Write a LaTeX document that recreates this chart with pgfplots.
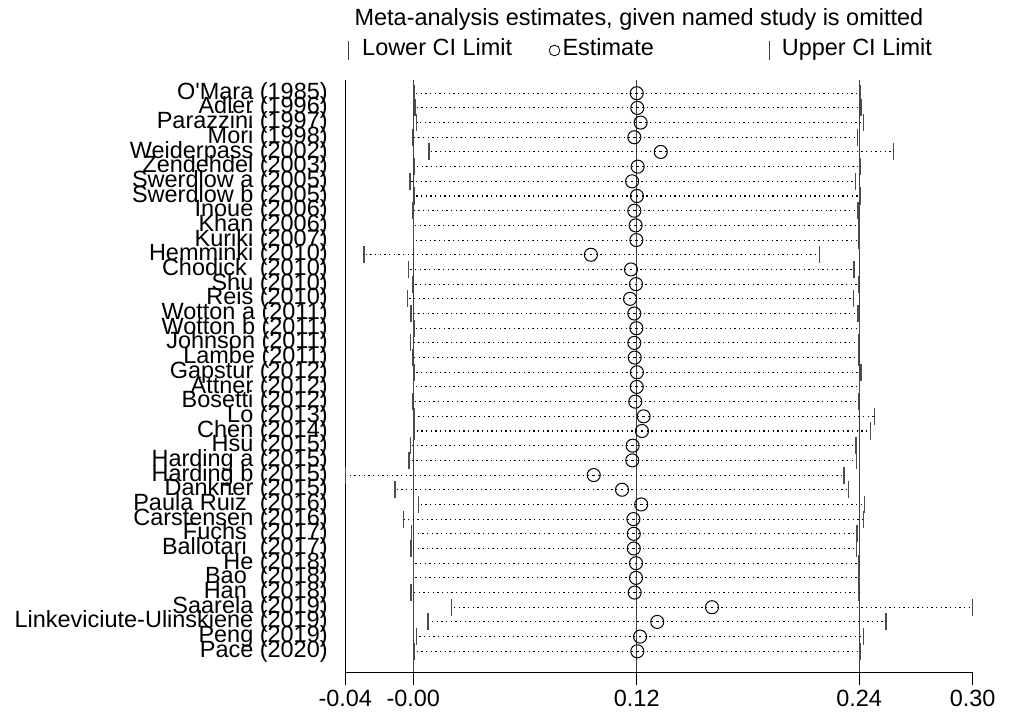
\documentclass[border=0pt]{standalone}
\usepackage{fontspec}
\setmainfont{Liberation Sans}
\usepackage{pgfplots}
\pgfplotsset{compat=1.18}
\usepackage{pgfplotstable}

\pgfplotstableread{
y lo est up
39 0.0004 0.1200 0.2399
38 0.0009 0.1203 0.2404
37 0.0018 0.1221 0.2419
36 -0.0003 0.1187 0.2385
35 0.0084 0.1329 0.2578
34 0.0008 0.1205 0.2399
33 -0.0018 0.1175 0.2374
32 0.0008 0.1201 0.2399
31 -0.0002 0.1187 0.2387
30 0.0002 0.1194 0.2394
29 0.0002 0.1198 0.2394
28 -0.0265 0.0954 0.2180
27 -0.0025 0.1169 0.2367
26 -0.0003 0.1196 0.2392
25 -0.0032 0.1164 0.2363
24 -0.0012 0.1187 0.2387
23 0.0004 0.1198 0.2395
22 -0.0016 0.1187 0.2390
21 -0.0003 0.1189 0.2390
20 0.0004 0.1201 0.2403
19 0.0002 0.1200 0.2397
18 -0.0003 0.1192 0.2392
17 0.0005 0.1237 0.2476
16 0.0004 0.1228 0.2454
15 -0.0016 0.1178 0.2378
14 -0.0023 0.1176 0.2379
13 -0.0365 0.0969 0.2313
12 -0.0098 0.1121 0.2336
11 0.0029 0.1224 0.2422
10 -0.0052 0.1182 0.2419
9 -0.0009 0.1184 0.2383
8 -0.0012 0.1184 0.2381
7 0.0002 0.1196 0.2392
6 0.0002 0.1196 0.2394
5 -0.0012 0.1189 0.2392
4 0.0204 0.1604 0.3004
3 0.0079 0.1310 0.2539
2 0.0016 0.1218 0.2419
1 0.0004 0.1203 0.2399
}\studies

\newcommand\fs{\fontsize{17.6pt}{21pt}\selectfont}

\begin{document}
\begin{tikzpicture}
\path[use as bounding box] (0,0) rectangle (757.5pt,535.5pt);
\begin{axis}[
  at={(258.975pt,31.275pt)}, anchor=south west,
  scale only axis, width=470.55pt, height=444.225pt,
  xmin=-0.0365, xmax=0.3004, ymin=-0.43, ymax=39.9,
  axis x line*=bottom, axis y line*=left,
  axis line style={-, black, line width=0.9pt},
  xtick={-0.0365,0,0.12,0.2394,0.3004},
  xticklabels={-0.04,-0.00,0.12,0.24,0.30},
  major tick length=9.75pt,
  xtick style={black, line width=0.9pt, yshift=-9.75pt},
  xticklabel style={font=\fs, inner sep=0pt, anchor=north, yshift=-13.3pt},
  ytick={1,...,39},
  yticklabels={Pace (2020), Peng (2019), Linkeviciute-Ulinskiene (2019), Saarela (2019), Han\ \ (2018), Bao\ \ (2018), He (2018), Ballotari\ \ (2017), Fuchs\ \ (2017), Carstensen (2016), Paula Ruiz\ \ (2016), Dankner (2015), Harding b (2015), Harding a (2015), Hsu (2015), Chen (2014), Lo (2013), Bosetti (2012), Attner (2012), Gapstur (2012), Lambe (2011), Johnson (2011), Wotton b (2011), Wotton a (2011), Reis (2010), Shu (2010), Chodick\ \ (2010), Hemminki (2010), Kuriki (2007), Khan (2006), Inoue (2006), Swerdlow b (2005), Swerdlow a (2005), Zendehdel (2003), Weiderpass (2002), Mori (1998), Parazzini (1997), Adler (1996), O\textquotesingle Mara (1985)},
  ytick style={draw=none},
  yticklabel style={font=\fs, inner sep=0pt, anchor=east, xshift=-13pt},
  clip=false,
  title={Meta-analysis estimates, given named study is omitted},
  title style={at={(axis description cs:0.468,1.0912)}, anchor=base, yshift=-6pt, font=\fs, inner sep=0pt},
  legend columns=3,
  legend style={draw=none, fill=none, at={(axis description cs:0.0041,1.0498)}, anchor=west,
    inner sep=0pt, outer sep=0pt, column sep=0pt, row sep=0pt,
    nodes={inner sep=0pt, font=\fs, text height=0.72em, text depth=0pt}},
]
\addlegendimage{legend image code/.code={\draw[black!75, line width=1pt] (0pt,-7pt) -- (0pt,7pt);}}
\addlegendentry{\makebox[150pt][l]{\hspace*{9.75pt}Lower CI Limit}}
\addlegendimage{only marks, mark=o, mark size=4pt, black, line width=0.6pt}
\addlegendentry{\makebox[156.5pt][l]{\hspace*{2pt}Estimate}}
\addlegendimage{legend image code/.code={\draw[black!75, line width=1pt] (0pt,-7pt) -- (0pt,7pt);}}
\addlegendentry{\makebox[125pt][l]{\hspace*{9pt}Upper CI Limit}}

\addplot[forget plot, black!75, line width=0.9pt] coordinates {(0,-0.43) (0,39.9)};
\addplot[forget plot, black!75, line width=0.9pt] coordinates {(0.12,-0.43) (0.12,39.9)};
\addplot[forget plot, black!75, line width=0.9pt] coordinates {(0.2394,-0.43) (0.2394,39.9)};

\addplot[forget plot, only marks, mark=o, mark size=4.9pt, mark options={black, line width=0.75pt},
  error bars/.cd, x dir=both, x explicit, error mark=none,
  error bar style={black, line width=0.8pt, dash pattern=on 1pt off 2.5pt}]
  table[x=est, y=y, x error plus expr=\thisrow{up}-\thisrow{est}, x error minus expr=\thisrow{est}-\thisrow{lo}] {\studies};

\addplot[forget plot, only marks, mark=|, mark size=6.4pt, mark options={black!70, line width=1.1pt}]
  table[x=lo, y=y] {\studies};
\addplot[forget plot, only marks, mark=|, mark size=6.4pt, mark options={black!70, line width=1.1pt}]
  table[x=up, y=y] {\studies};
\end{axis}
\end{tikzpicture}
\end{document}
